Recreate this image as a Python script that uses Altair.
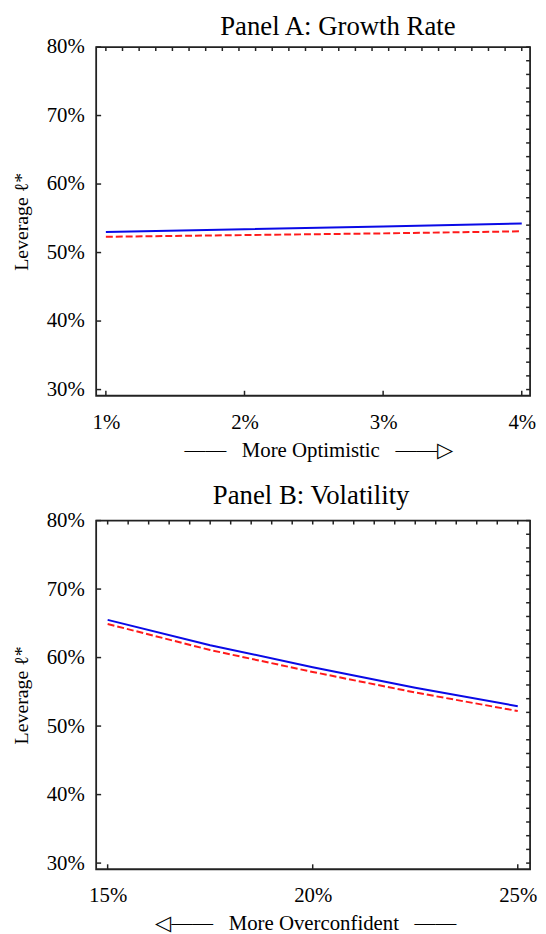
import altair as alt
import pandas as pd

# ---- data ----
growth_pct = [1, 2, 3, 4]
growth_blue = [53.0, 53.4, 53.8, 54.25]
growth_red = [52.3, 52.55, 52.8, 53.1]

vol_pct = [15, 17.5, 20, 22.5, 25]
vol_blue = [65.5, 61.8, 58.6, 55.6, 52.9]
vol_red = [64.9, 61.1, 57.9, 54.9, 52.2]

# ---- tick labels / tick positions ----
y_ticks = [30, 40, 50, 60, 70, 80]
growth_xticks = [1, 2, 3, 4]
vol_xticks = [15, 20, 25]
right_minor = [30 + 2 * i for i in range(26)]
growth_top_minor = [round(1 + 0.12 * i, 2) for i in range(26)]
vol_top_minor = [15 + 0.5 * i for i in range(21)]

FONT = "Liberation Serif"
W, H = 438, 352
Y_DOMAIN = [29.1, 80]
NB = "\u00a0"
ZW = "\u200b"


def panel(title, dx, toff, xs, blue, red, x_domain, x_ticks, top_minor, x_title):
    xsc = alt.Scale(domain=x_domain, nice=False, zero=False)
    ysc = alt.Scale(domain=Y_DOMAIN, nice=False, zero=False)

    x_axis = alt.Axis(values=x_ticks, labelExpr="datum.value + '%'", ticks=False,
                      domain=False, grid=False, labelFont=FONT, labelFontSize=21,
                      labelColor="#000", labelPadding=16, labelFlush=False,
                      labelOverlap=False, title=x_title, titleFont=FONT,
                      titleFontSize=21, titleFontWeight="normal", titleColor="#000",
                      titlePadding=7)
    y_axis = alt.Axis(values=y_ticks, labelExpr="datum.value + '%'", ticks=False,
                      domain=False, grid=False, labelFont=FONT, labelFontSize=21,
                      labelColor="#000", labelPadding=12, title="Leverage ℓ*",
                      titleFont=FONT, titleFontSize=20, titleFontWeight="normal",
                      titleColor="#000", titlePadding=15)

    def X(field="x"):
        return alt.X(f"{field}:Q", scale=xsc, axis=x_axis)

    def Y(field="y"):
        return alt.Y(f"{field}:Q", scale=ysc, axis=y_axis)

    blue_line = alt.Chart(pd.DataFrame({"x": xs, "y": blue})).mark_line(
        color="#0a0ae6", strokeWidth=2
    ).encode(x=X(), y=Y())

    red_line = alt.Chart(pd.DataFrame({"x": xs, "y": red})).mark_line(
        color="#ff1a1a", strokeWidth=2, strokeDash=[7, 3]
    ).encode(x=X(), y=Y())

    tick_color = "#222"
    left_t = alt.Chart(pd.DataFrame({"y": y_ticks})).mark_rule(color=tick_color, strokeWidth=1.5).encode(
        y=Y(), x=alt.value(0), x2=alt.value(5))
    right_t = alt.Chart(pd.DataFrame({"y": right_minor})).mark_rule(color=tick_color, strokeWidth=1.5).encode(
        y=Y(), x=alt.value(W - 4), x2=alt.value(W))
    bottom_t = alt.Chart(pd.DataFrame({"x": x_ticks})).mark_rule(color=tick_color, strokeWidth=1.5).encode(
        x=X(), y=alt.value(H - 5), y2=alt.value(H))
    top_t = alt.Chart(pd.DataFrame({"x": top_minor})).mark_rule(color=tick_color, strokeWidth=1.5).encode(
        x=X(), y=alt.value(0), y2=alt.value(4))

    return alt.layer(blue_line, red_line, left_t, right_t, bottom_t, top_t).properties(
        width=W, height=H,
        title=alt.TitleParams(title, font=FONT, fontSize=27, fontWeight="normal",
                              color="#000", offset=toff, dx=dx, baseline="bottom"),
    )


panel_a = panel("Panel A: Growth Rate", 25, -32, growth_pct, growth_blue, growth_red,
                [0.93, 4.06], growth_xticks, growth_top_minor,
                ZW + NB * 2 + "——" + NB * 3 + "More Optimistic" + NB * 3 + "——▷")
panel_b = panel("Panel B: Volatility", -2, -27, vol_pct, vol_blue, vol_red,
                [14.72, 25.3], vol_xticks, vol_top_minor,
                "◁——" + NB * 3 + "More Overconfident" + NB * 3 + "——" + NB * 3 + ZW)

chart = alt.vconcat(panel_a, panel_b, spacing=20).properties(
    padding={"left": 2, "top": 0, "right": 0, "bottom": 0}
).configure(
    background="white"
).configure_view(stroke="#222", strokeWidth=1.8)

chart.save("out.html", embed_options={"renderer": "svg", "actions": False})
